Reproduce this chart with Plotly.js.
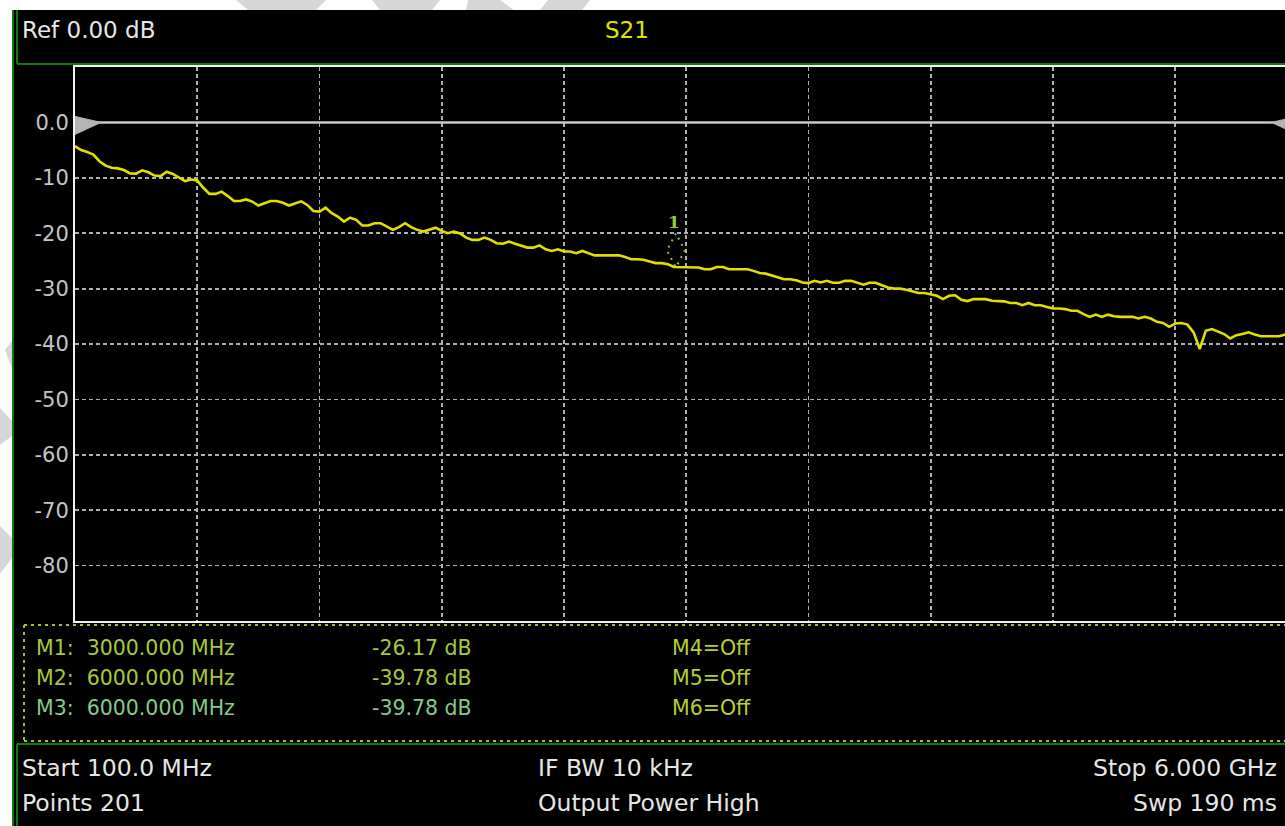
<!DOCTYPE html>
<html>
<head>
<meta charset="utf-8">
<script src="https://cdn.plot.ly/plotly-3.0.1.min.js"></script>
<style>
html,body{margin:0;padding:0;background:#ffffff;}
#chart{width:1285px;height:826px;}
</style>
</head>
<body>
<div id="chart"></div>
<script>
// ---- sweep settings (from status bar) ----
const startMHz = 100;
const stopMHz = 6000;
const points = 201;
const refLevel = 0;

// ---- S21 trace values (dB), 201 points ----
const s21 = [
  -4.3, -5.0, -5.35, -5.8, -7.0, -7.8, -8.2, -8.3, -8.6, -9.2,
  -9.25, -8.65, -9.0, -9.6, -9.7, -8.9, -9.3, -10.0, -10.6, -10.3,
  -10.5, -11.8, -12.9, -12.9, -12.5, -13.3, -14.2, -14.2, -13.9, -14.3,
  -15.0, -14.6, -14.2, -14.2, -14.5, -15.0, -14.6, -14.25, -14.9, -16.0,
  -16.1, -15.4, -16.4, -17.0, -17.9, -17.2, -17.6, -18.6, -18.6, -18.2,
  -18.2, -18.8, -19.4, -18.9, -18.2, -18.9, -19.4, -19.7, -19.3, -19.0,
  -19.6, -20.0, -19.7, -20.05, -20.8, -21.2, -21.2, -20.8, -21.2, -21.8,
  -21.9, -21.5, -21.9, -22.3, -22.6, -22.6, -22.2, -22.9, -23.2, -22.9,
  -23.3, -23.3, -23.6, -23.2, -23.6, -24.0, -24.0, -24.0, -24.0, -24.0,
  -24.3, -24.7, -24.7, -24.8, -25.1, -25.4, -25.4, -25.6, -26.1, -26.15,
  -26.15, -26.15, -26.2, -26.5, -26.5, -26.1, -26.1, -26.5, -26.5, -26.5,
  -26.5, -26.8, -27.2, -27.3, -27.6, -27.9, -28.3, -28.3, -28.5, -28.9,
  -29.0, -28.6, -28.9, -28.6, -28.95, -28.95, -28.6, -28.6, -28.95, -29.3,
  -28.95, -28.95, -29.4, -29.8, -30.0, -30.0, -30.2, -30.45, -30.8, -30.8,
  -31.1, -31.3, -31.9, -31.3, -31.2, -32.0, -32.25, -31.9, -31.9, -31.9,
  -32.2, -32.25, -32.3, -32.6, -32.6, -33.0, -32.6, -33.0, -33.0, -33.3,
  -33.6, -33.6, -33.7, -34.0, -34.0, -34.6, -35.1, -34.7, -35.1, -34.7,
  -35.0, -35.1, -35.1, -35.1, -35.4, -35.1, -35.4, -36.0, -36.2, -36.9,
  -36.3, -36.2, -36.5, -37.9, -40.9, -37.6, -37.3, -37.8, -38.2, -39.0,
  -38.4, -38.2, -37.9, -38.3, -38.6, -38.6, -38.6, -38.6, -38.3, -39.1, -39.78
];

// ---- y-axis tick labels ----
const yTickVals = [0, -10, -20, -30, -40, -50, -60, -70, -80];
const yTickText = ["0.0", "-10", "-20", "-30", "-40", "-50", "-60", "-70", "-80"];

// ---- markers ----
const markerNames = ["M1", "M2", "M3"];
const markerFreqs = [3000, 6000, 6000];
const markerVals = [-26.17, -39.78, -39.78];
const offMarkers = ["M4", "M5", "M6"];

// ---- header / status texts ----
const refText = "Ref 0.00 dB";
const traceName = "S21";
const statusLeft = ["Start 100.0 MHz", "Points 201"];
const statusMid = ["IF BW 10 kHz", "Output Power High"];
const statusRight = ["Stop 6.000 GHz", "Swp 190 ms"];

// sweep frequencies (linear sweep defined by start/stop/points)
const freqs = [];
for (let i = 0; i < points; i++) freqs.push(startMHz + i * (stopMHz - startMHz) / (points - 1));

// plot-area geometry in page pixels
const L = 75, R = 1285, T = 67, B = 621;
const W = R - L, H = B - T;
const fx = px => (px - L) / W;
const fy = py => (B - py) / H;
const ppath = pts => pts.map((p, k) => (k ? "L" : "M") + fx(p[0]).toFixed(5) + "," + fy(p[1]).toFixed(5)).join(" ") + " Z";

// visible span: 10 divisions of 122.25 px, right edge cut off by the screen
const divPx = 122.25;
const xMax = startMHz + (W / (10 * divPx)) * (stopMHz - startMHz);

const FONT = "DejaVu Sans, Verdana, sans-serif";
const white = "#e6e6e6";
const mColors = ["#a6c93c", "#a6c93c", "#86c98a"];
const offColor = "#b4d032";
const green = "#0a7a0a";
const dotGreen = "#a4c624";

const shapes = [];
// black instrument screen
shapes.push({type: "rect", xref: "paper", yref: "paper", layer: "below",
  x0: fx(12), x1: fx(1300), y0: fy(10), y1: fy(830), fillcolor: "#000000", line: {width: 0}});
// faint watermark fragments on the white margins
const wm = [
  [[236,0],[326,0],[316,10],[248,10]],
  [[372,0],[440,0],[432,10],[380,10]],
  [[468,0],[500,0],[514,10],[466,10]],
  [[548,0],[590,0],[582,10],[540,10]],
  [[5,350],[12,341],[12,368]],
  [[0,408],[12,421],[12,436],[0,445]],
  [[0,526],[12,538],[12,558],[0,574]]
];
wm.forEach(p => shapes.push({type: "path", xref: "paper", yref: "paper", layer: "below",
  path: ppath(p), fillcolor: "#d6d6d6", line: {width: 0}}));
// green frame lines
const gl = (x0, y0, x1, y1, w) => shapes.push({type: "line", xref: "paper", yref: "paper",
  x0: fx(x0), x1: fx(x1), y0: fy(y0), y1: fy(y1), line: {color: green, width: w || 2}});
gl(13, 10, 13, 826);
gl(17, 10, 17, 64);
gl(17, 64, 1290, 64);
gl(17, 744, 1290, 744);
gl(17, 744, 17, 826);
// dotted marker box
const dl = (x0, y0, x1, y1) => shapes.push({type: "line", xref: "paper", yref: "paper",
  x0: fx(x0), x1: fx(x1), y0: fy(y0), y1: fy(y1), line: {color: dotGreen, width: 2, dash: "3px,4px"}});
dl(24, 625, 1290, 625);
dl(24, 625, 24, 742);
dl(24, 741, 1290, 741);
// reference level line and triangles
shapes.push({type: "line", xref: "x", yref: "y", x0: startMHz, x1: stopMHz, y0: refLevel, y1: refLevel,
  line: {color: "#c8c8c8", width: 2.5}});
shapes.push({type: "path", xref: "x", yref: "y", xsizemode: "pixel", ysizemode: "pixel",
  xanchor: startMHz, yanchor: refLevel, path: "M0,6 L26,0 L0,-12 Z",
  fillcolor: "#b4b4b4", line: {color: "#b4b4b4", width: 1}});
shapes.push({type: "path", xref: "x", yref: "y", xsizemode: "pixel", ysizemode: "pixel",
  xanchor: stopMHz, yanchor: refLevel, path: "M0,6 L-26,0 L0,-12 Z",
  fillcolor: "#b4b4b4", line: {color: "#b4b4b4", width: 1}});
// marker 1 symbol (dotted diamond pointing at the trace)
shapes.push({type: "path", xref: "x", yref: "y", xsizemode: "pixel", ysizemode: "pixel",
  xanchor: markerFreqs[0], yanchor: markerVals[0], path: "M0,34 L-9,17 L0,0 L9,17 Z",
  line: {color: "#8fc43a", width: 2, dash: "2px,5px"}});

const ann = [];
const txt = (text, px, py, color, size, anchor) => ann.push({text: text, xref: "paper", yref: "paper",
  x: fx(px), y: fy(py), xanchor: anchor || "left", yanchor: "middle", showarrow: false,
  font: {family: FONT, size: size, color: color}});
txt(refText, 20, 30, white, 23);
txt(traceName, 603, 30, "#e2e200", 23);
markerNames.forEach((m, k) => {
  const py = 648 + k * 30;
  txt(m + ":\u00a0\u00a0" + markerFreqs[k].toFixed(3) + " MHz", 34, py, mColors[k], 20.5);
  txt(markerVals[k].toFixed(2) + " dB", 370, py, mColors[k], 20.5);
  txt(offMarkers[k] + "=Off", 670, py, offColor, 20.5);
});
statusLeft.forEach((s, k) => txt(s, 20, 768 + k * 35, white, 23.5));
statusMid.forEach((s, k) => txt(s, 536, 768 + k * 35, white, 23.5));
statusRight.forEach((s, k) => txt(s, 1279, 768 + k * 35, white, 23.5, "right"));
// marker 1 number
ann.push({text: "<b>1</b>", xref: "x", yref: "y", x: markerFreqs[0], y: markerVals[0], yshift: 45, xshift: -2,
  showarrow: false, xanchor: "center", yanchor: "middle",
  font: {family: "DejaVu Serif, serif", size: 17, color: "#9acb34"}});

const data = [{
  type: "scatter", mode: "lines", x: freqs, y: s21, name: traceName,
  line: {color: "#e0e000", width: 2.6}, hoverinfo: "skip"
}];

const layout = {
  width: 1285, height: 826, autosize: false,
  margin: {l: L, r: 1285 - R, t: T, b: 826 - B, pad: 0},
  paper_bgcolor: "#ffffff", plot_bgcolor: "#000000",
  showlegend: false,
  xaxis: {range: [startMHz, xMax], tick0: startMHz, dtick: (stopMHz - startMHz) / 10, tickmode: "linear",
    showticklabels: false, ticks: "", showgrid: true, gridcolor: "#b0b0b0", gridwidth: 1.8, griddash: "4px,3px",
    zeroline: false, showline: true, linecolor: "#f2f2f2", linewidth: 2, mirror: true},
  yaxis: {range: [-90, 10], tickmode: "array", tickvals: yTickVals, ticktext: yTickText,
    ticks: "", showgrid: true, gridcolor: "#b0b0b0", gridwidth: 1.8, griddash: "4px,3px",
    zeroline: false, showline: true, linecolor: "#f2f2f2", linewidth: 2, mirror: false,
    tickfont: {family: FONT, size: 21, color: "#c4c4c4"}},
  shapes: shapes,
  annotations: ann
};

Plotly.newPlot("chart", data, layout, {staticPlot: true, displayModeBar: false});
</script>
</body>
</html>
